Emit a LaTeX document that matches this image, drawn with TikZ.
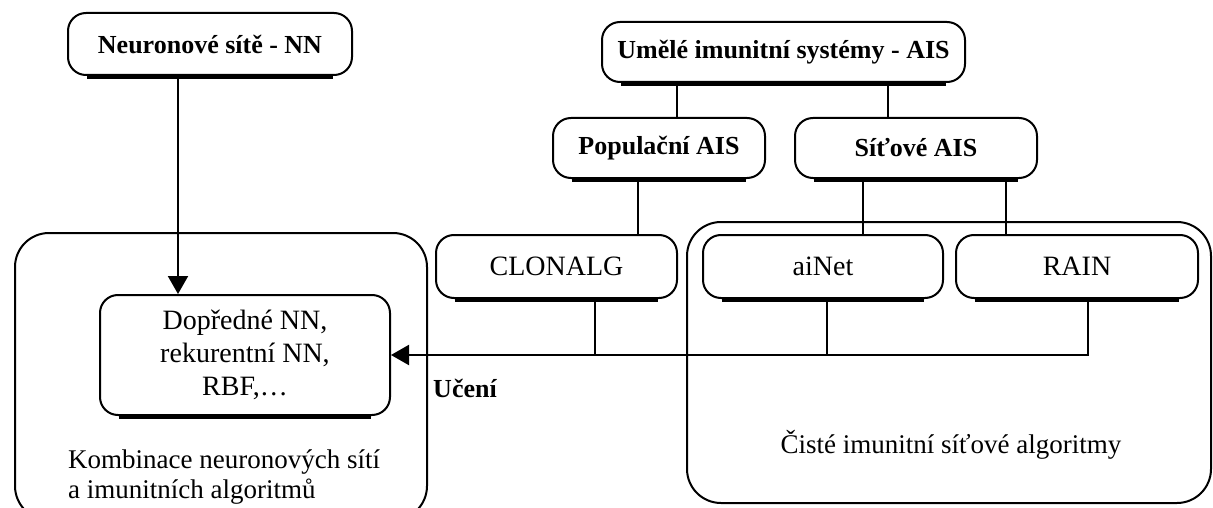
\documentclass[tikz,border=0pt]{standalone}
\usepackage{fontspec}
\setmainfont{Liberation Serif}
\usetikzlibrary{arrows.meta}
\begin{document}
\begin{tikzpicture}[x=1pt,y=-1pt,
  box/.style={draw,line width=2pt,rounded corners=18pt,inner sep=0pt,align=center},
  frame/.style={draw,line width=2pt,rounded corners=34pt,inner sep=0pt},
  title/.style={font=\fontsize{26}{30}\selectfont\bfseries},
  plain/.style={font=\fontsize{28}{33}\selectfont},
  note/.style={font=\fontsize{27}{30}\selectfont},
  conn/.style={line width=2pt},
  arr/.style={line width=2pt,-{Triangle[length=18pt,width=20pt]}},
  bottom/.style={line width=4.5pt}]
\useasboundingbox (0,0) rectangle (1213,508);
\fill[white] (0,0) rectangle (1213,508);
\clip (0,0) rectangle (1213,508);

% frames
\node[frame,minimum width=412pt,minimum height=287pt] (frameL) at (221,376.5) {};
\node[frame,minimum width=524pt,minimum height=281pt] (frameR) at (949,362.5) {};

% nodes
\node[box,title,minimum width=284pt,minimum height=62pt] (NN) at (210,44) {Neuronové sítě - NN};
\node[box,title,minimum width=363pt,minimum height=60pt] (AIS) at (783.5,52) {Umělé imunitní systémy - AIS};
\node[box,title,minimum width=212pt,minimum height=60pt] (Pop) at (659,148) {Populační AIS};
\node[box,title,minimum width=242pt,minimum height=60pt] (Sit) at (916,148) {Síťové AIS};
\node[box,plain,minimum width=241pt,minimum height=63pt] (CLON) at (556.5,266.5) {CLONALG};
\node[box,plain,minimum width=240pt,minimum height=63pt] (aiNet) at (823,266.5) {aiNet};
\node[box,plain,minimum width=242pt,minimum height=63pt] (RAIN) at (1077,266.5) {RAIN};
\node[box,plain,minimum width=290pt,minimum height=120pt] (Dop) at (245,355) {Dopředné NN,\\rekurentní NN,\\RBF,\dots};

\foreach \n in {NN,AIS,Pop,Sit,CLON,aiNet,RAIN,Dop}
  \draw[bottom] ([xshift=20pt,yshift=-1pt]\n.south west) -- ([xshift=-20pt,yshift=-1pt]\n.south east);

% labels
\node[title,inner sep=0pt] (ucen) at (465,388) {Učení};
\node[note,inner sep=0pt] (cist) at (951,445) {Čisté imunitní síťové algoritmy};
\node[note,inner sep=0pt,align=left,anchor=north west] (komb) at (68,450) {Kombinace neuronových sítí\\a imunitních algoritmů};

% column coordinates
\coordinate (c1) at (178,0);
\coordinate (c2) at (677,0);
\coordinate (c3) at (888,0);
\coordinate (c4) at (638,0);
\coordinate (c5) at (863,0);
\coordinate (c6) at (1006,0);
\coordinate (d1) at (595,355);
\coordinate (d2) at (827,355);
\coordinate (d3) at (1088,355);

% connectors
\draw[arr] (NN.south -| c1) -- (Dop.north -| c1);
\draw[conn] (AIS.south -| c2) -- (Pop.north -| c2);
\draw[conn] (AIS.south -| c3) -- (Sit.north -| c3);
\draw[conn] (Pop.south -| c4) -- (CLON.north -| c4);
\draw[conn] (Sit.south -| c5) -- (aiNet.north -| c5);
\draw[conn] (Sit.south -| c6) -- (RAIN.north -| c6);
\draw[conn] (CLON.south -| d1) -- (d1);
\draw[conn] (aiNet.south -| d2) -- (d2);
\draw[arr] (RAIN.south -| d3) -- (d3) -- (Dop.east |- d3);
\end{tikzpicture}
\end{document}
